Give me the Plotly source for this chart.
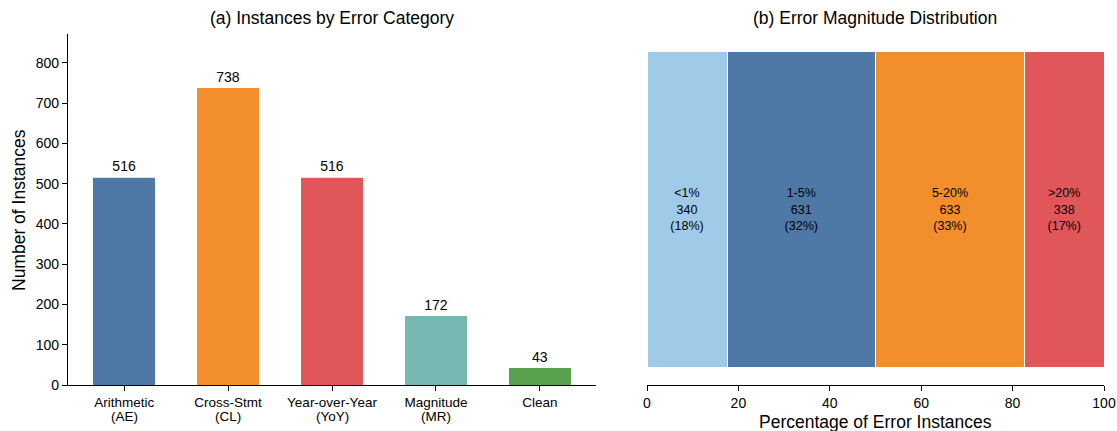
import plotly.graph_objects as go

cat_names = ["Arithmetic", "Cross-Stmt", "Year-over-Year", "Magnitude", "Clean"]
cat_codes = ["(AE)", "(CL)", "(YoY)", "(MR)", ""]
counts = [516, 738, 516, 172, 43]
cat_colors = ["#4e79a7", "#f28e2b", "#e15759", "#76b7b2", "#59a14f"]

mag_labels = ["<1%", "1-5%", "5-20%", ">20%"]
mag_counts = [340, 631, 633, 338]
mag_colors = ["#a0cbe8", "#4e79a7", "#f28e2b", "#e15759"]

FONT = "Liberation Sans, Arial, Helvetica, sans-serif"
W, H = 1117, 431


def px(x):
    return x / W


def py(y):
    return 1 - y / H


fig = go.Figure()

fig.add_trace(go.Bar(
    x=cat_names, y=counts, marker_color=cat_colors, width=0.6,
    marker_line_color="rgba(255,255,255,0.8)", marker_line_width=1,
    text=[str(c) for c in counts], textposition="outside",
    textfont=dict(size=14, color="black", family=FONT),
    cliponaxis=False, xaxis="x", yaxis="y", showlegend=False,
))

total = sum(mag_counts)
for lab, c, col in zip(mag_labels, mag_counts, mag_colors):
    pct = c / total * 100
    fig.add_trace(go.Bar(
        x=[pct], y=[0], orientation="h", width=1,
        marker_color=col, marker_line_color="white", marker_line_width=1,
        text=[f"{lab}<br>{c}<br>({pct:.0f}%)"], textposition="inside",
        insidetextanchor="middle",
        textfont=dict(size=12.5, color="black", family=FONT),
        xaxis="x2", yaxis="y2", showlegend=False,
    ))

annotations = [
    dict(text="(a) Instances by Error Category", x=px(332), y=py(18),
         xref="paper", yref="paper", showarrow=False, font=dict(size=17.5),
         xanchor="center", yanchor="middle"),
    dict(text="(b) Error Magnitude Distribution", x=px(875), y=py(18),
         xref="paper", yref="paper", showarrow=False, font=dict(size=17.5),
         xanchor="center", yanchor="middle"),
    dict(text="Number of Instances", x=px(19), y=py(210), textangle=-90,
         xref="paper", yref="paper", showarrow=False, font=dict(size=17.5),
         xanchor="center", yanchor="middle"),
    dict(text="Percentage of Error Instances", x=px(875), y=py(422),
         xref="paper", yref="paper", showarrow=False, font=dict(size=17.5),
         xanchor="center", yanchor="middle"),
]
for name, code in zip(cat_names, cat_codes):
    if code:
        annotations.append(dict(text=code, x=name, xref="x", y=py(416), yref="paper",
                                showarrow=False, font=dict(size=13.5),
                                xanchor="center", yanchor="middle"))

fig.update_layout(
    width=W, height=H,
    margin=dict(l=0, r=0, t=0, b=0, autoexpand=False),
    paper_bgcolor="white", plot_bgcolor="white",
    barmode="stack",
    hovermode=False,
    font=dict(family=FONT, size=14, color="black"),
    xaxis=dict(domain=[px(68), px(596)], range=[-0.54, 4.54], automargin=False,
               showline=True, linecolor="black", linewidth=1.2,
               ticks="outside", ticklen=5, tickcolor="black",
               tickfont=dict(size=13.5), showgrid=False, zeroline=False),
    yaxis=dict(domain=[py(385), py(34)], range=[0, 872], automargin=False,
               showline=True, linecolor="black", linewidth=1.2,
               ticks="outside", ticklen=5, tickcolor="black",
               dtick=100, tickfont=dict(size=14), showgrid=False, zeroline=False),
    xaxis2=dict(domain=[px(647), px(1104)], range=[0, 100], automargin=False,
                showline=True, linecolor="black", linewidth=1.2,
                ticks="outside", ticklen=5, tickcolor="black",
                dtick=20, tickfont=dict(size=14), showgrid=False, zeroline=False,
                anchor="y2"),
    yaxis2=dict(domain=[py(385), py(34)], range=[-0.554, 0.554],
                visible=False, anchor="x2"),
    annotations=annotations,
)

fig.write_html(
    "out.html",
    config={"displayModeBar": False, "staticPlot": True},
    post_script="document.body.style.margin='0';document.body.style.overflow='hidden';",
)
